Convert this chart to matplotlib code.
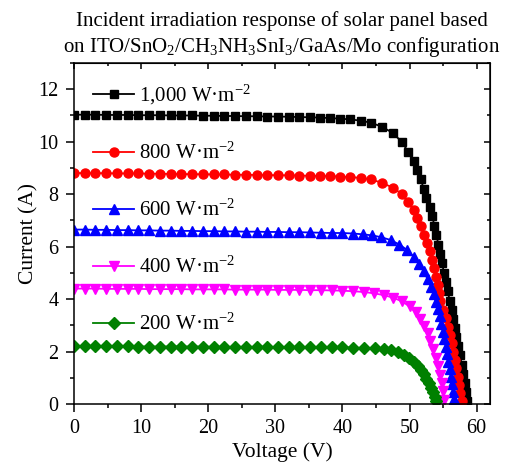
import matplotlib
matplotlib.use("Agg")
import matplotlib.pyplot as plt
from matplotlib.ticker import MultipleLocator

plt.rcParams['font.family'] = ['Liberation Serif', 'DejaVu Serif']
plt.rcParams['mathtext.fontset'] = 'custom'
plt.rcParams['mathtext.rm'] = 'Liberation Serif'
plt.rcParams['mathtext.it'] = 'Liberation Serif:italic'
plt.rcParams['mathtext.bf'] = 'Liberation Serif:bold'

# I-V data for each irradiance level (voltage in V, current in A)
v_1000 = [0.0, 1.6, 3.2, 4.8, 6.4, 8.0, 9.6, 11.2, 12.8, 14.4, 16.0, 17.6, 19.2, 20.8,
          22.4, 24.0, 25.6, 27.2, 28.8, 30.4, 32.0, 33.6, 35.1, 36.6, 38.1, 39.6, 41.2,
          42.8, 44.3, 45.9, 47.6, 48.9, 49.8, 50.6, 51.1, 51.7, 52.1, 52.5, 53.0, 53.4,
          53.7, 54.0, 54.3, 54.6, 54.9, 55.1, 55.4, 55.7, 56.0, 56.3, 56.5, 56.8, 57.0,
          57.3, 57.5, 57.8, 58.0, 58.2, 58.4, 58.5]
i_1000 = [11.03, 11.03, 11.03, 11.02, 11.02, 11.02, 11.01, 11.01, 11.01, 11.00, 11.00,
          11.00, 10.99, 10.99, 10.98, 10.98, 10.97, 10.97, 10.96, 10.96, 10.95, 10.94,
          10.93, 10.92, 10.90, 10.88, 10.85, 10.80, 10.72, 10.57, 10.32, 9.97, 9.62, 9.28,
          8.92, 8.56, 8.21, 7.86, 7.50, 7.15, 6.80, 6.45, 6.08, 5.72, 5.36, 5.00, 4.65,
          4.30, 3.93, 3.59, 3.25, 2.90, 2.55, 2.20, 1.86, 1.50, 1.15, 0.80, 0.44, 0.10]

v_800 = [0.0, 1.6, 3.2, 4.8, 6.4, 8.0, 9.6, 11.2, 12.8, 14.4, 16.0, 17.6, 19.2, 20.8,
         22.4, 24.0, 25.6, 27.2, 28.8, 30.4, 32.0, 33.6, 35.1, 36.6, 38.1, 39.6, 41.2,
         42.8, 44.3, 45.9, 47.6, 48.9, 49.8, 50.6, 51.1, 51.7, 52.1, 52.6, 53.0, 53.4,
         53.7, 54.0, 54.2, 54.4, 54.6, 55.0, 55.4, 55.7, 56.0, 56.3, 56.5, 56.8, 57.0,
         57.2, 57.4, 57.6, 57.8]
i_800 = [8.81, 8.80, 8.80, 8.80, 8.79, 8.79, 8.79, 8.78, 8.78, 8.77, 8.77, 8.76, 8.76,
         8.75, 8.75, 8.74, 8.74, 8.73, 8.73, 8.72, 8.72, 8.71, 8.70, 8.69, 8.69, 8.67,
         8.65, 8.62, 8.56, 8.43, 8.24, 7.99, 7.69, 7.39, 7.10, 6.78, 6.46, 6.14, 5.82,
         5.50, 5.19, 4.86, 4.54, 4.22, 3.91, 3.59, 3.27, 2.95, 2.64, 2.32, 2.00, 1.68,
         1.36, 1.04, 0.73, 0.41, 0.12]

v_600 = [0.0, 1.6, 3.2, 4.8, 6.4, 8.0, 9.6, 11.2, 12.8, 14.4, 16.0, 17.6, 19.2, 20.8,
         22.4, 24.0, 25.6, 27.2, 28.8, 30.4, 32.0, 33.6, 35.2, 36.8, 38.4, 40.0, 41.6,
         43.0, 44.4, 45.8, 47.2, 48.5, 49.6, 50.6, 51.4, 52.1, 52.7, 53.2, 53.6, 53.9,
         54.2, 54.5, 54.7, 55.0, 55.2, 55.4, 55.6, 55.8, 56.0, 56.2, 56.4, 56.5, 56.7]
i_600 = [6.65, 6.65, 6.64, 6.64, 6.63, 6.63, 6.62, 6.62, 6.61, 6.61, 6.60, 6.60, 6.59,
         6.59, 6.58, 6.58, 6.57, 6.57, 6.56, 6.56, 6.55, 6.55, 6.54, 6.53, 6.52, 6.52,
         6.50, 6.47, 6.43, 6.36, 6.25, 6.08, 5.88, 5.62, 5.35, 5.06, 4.76, 4.46, 4.18,
         3.90, 3.62, 3.34, 3.06, 2.76, 2.47, 2.19, 1.90, 1.62, 1.33, 1.04, 0.76, 0.47,
         0.18]

v_400 = [0.0, 1.6, 3.2, 4.8, 6.4, 8.0, 9.6, 11.2, 12.8, 14.4, 16.0, 17.6, 19.2, 20.8,
         22.4, 24.0, 25.6, 27.2, 28.8, 30.4, 32.0, 33.6, 35.2, 36.8, 38.4, 40.0, 41.6,
         43.2, 44.7, 46.2, 47.6, 48.9, 50.0, 50.9, 51.6, 52.2, 52.7, 53.1, 53.5, 53.9,
         54.2, 54.5, 54.8, 55.0, 55.2]
i_400 = [4.40, 4.40, 4.40, 4.39, 4.39, 4.39, 4.39, 4.38, 4.38, 4.38, 4.38, 4.37, 4.37,
         4.37, 4.37, 4.36, 4.36, 4.36, 4.36, 4.35, 4.35, 4.35, 4.34, 4.34, 4.33, 4.32,
         4.30, 4.27, 4.22, 4.15, 4.05, 3.91, 3.72, 3.50, 3.25, 2.98, 2.70, 2.40, 2.08,
         1.76, 1.44, 1.12, 0.80, 0.48, 0.17]

v_200 = [0.0, 1.6, 3.2, 4.8, 6.4, 8.0, 9.6, 11.2, 12.8, 14.4, 16.0, 17.6, 19.2, 20.8,
         22.4, 24.0, 25.6, 27.2, 28.8, 30.4, 32.0, 33.6, 35.2, 36.8, 38.4, 40.0, 41.6,
         43.2, 44.8, 46.2, 47.3, 48.3, 49.2, 49.9, 50.6, 51.2, 51.7, 52.1, 52.5, 52.9,
         53.2, 53.5, 53.8, 54.0]
i_200 = [2.20, 2.20, 2.20, 2.20, 2.20, 2.20, 2.19, 2.19, 2.19, 2.19, 2.19, 2.19, 2.19,
         2.18, 2.18, 2.18, 2.18, 2.18, 2.18, 2.17, 2.17, 2.17, 2.17, 2.17, 2.16, 2.16,
         2.15, 2.14, 2.13, 2.11, 2.06, 1.98, 1.86, 1.74, 1.60, 1.45, 1.29, 1.13, 0.96,
         0.79, 0.62, 0.45, 0.28, 0.12]

labels = ['1,000 W·m$^{-2}$', '800 W·m$^{-2}$', '600 W·m$^{-2}$',
          '400 W·m$^{-2}$', '200 W·m$^{-2}$']

series = [(v_1000, i_1000, 'black', 's', 5.5),
          (v_800, i_800, 'red', 'o', 6.5),
          (v_600, i_600, 'blue', '^', 7),
          (v_400, i_400, 'magenta', 'v', 7),
          (v_200, i_200, 'green', 'D', 6)]

fig = plt.figure(figsize=(5.08, 4.63), dpi=100)
ax = fig.add_axes([0.1457, 0.1274, 0.8189, 0.7365])

for (v, i, c, m, ms), lab in zip(series, labels):
    ax.plot(v, i, color=c, marker=m, markersize=ms, linewidth=1.3, label=lab)

ax.set_xlim(0, 62)
ax.set_ylim(0, 13)
ax.xaxis.set_major_locator(MultipleLocator(10))
ax.xaxis.set_minor_locator(MultipleLocator(5))
ax.yaxis.set_major_locator(MultipleLocator(2))
ax.yaxis.set_minor_locator(MultipleLocator(1))
ax.tick_params(which='both', direction='out', labelsize=14.5, width=1.1)
ax.tick_params(axis='x', which='both', pad=5)
ax.tick_params(axis='y', which='both', pad=5)
ax.tick_params(which='major', length=6)
ax.tick_params(which='minor', length=3)
# mirrored ticks on the top and right axes, pointing inward
ax_top = ax.secondary_xaxis('top')
ax_top.xaxis.set_major_locator(MultipleLocator(10))
ax_top.xaxis.set_minor_locator(MultipleLocator(5))
ax_top.tick_params(which='both', direction='in', labeltop=False, width=1.1)
ax_top.tick_params(which='major', length=4)
ax_top.tick_params(which='minor', length=2.5)
ax_right = ax.secondary_yaxis('right')
ax_right.yaxis.set_major_locator(MultipleLocator(2))
ax_right.yaxis.set_minor_locator(MultipleLocator(1))
ax_right.tick_params(which='both', direction='in', labelright=False, width=1.1)
ax_right.tick_params(which='major', length=4)
ax_right.tick_params(which='minor', length=2.5)
for s in ax.spines.values():
    s.set_linewidth(1.1)

ax.set_xlabel('Voltage (V)', fontsize=15.5, labelpad=3)
ax.set_ylabel('Current (A)', fontsize=15.5, labelpad=0)
ax.set_title('Incident irradiation response of solar panel based\n'
             'on ITO/SnO$_2$/CH$_3$NH$_3$SnI$_3$/GaAs/Mo configuration',
             fontsize=15, pad=8, linespacing=1.25)

ax.legend(loc='upper left', frameon=False, fontsize=15, numpoints=1,
          handlelength=2.0, handletextpad=0.2, labelspacing=1.72,
          borderaxespad=0.3, bbox_to_anchor=(0.01, 0.985))

fig.savefig('out.png', dpi=100)
